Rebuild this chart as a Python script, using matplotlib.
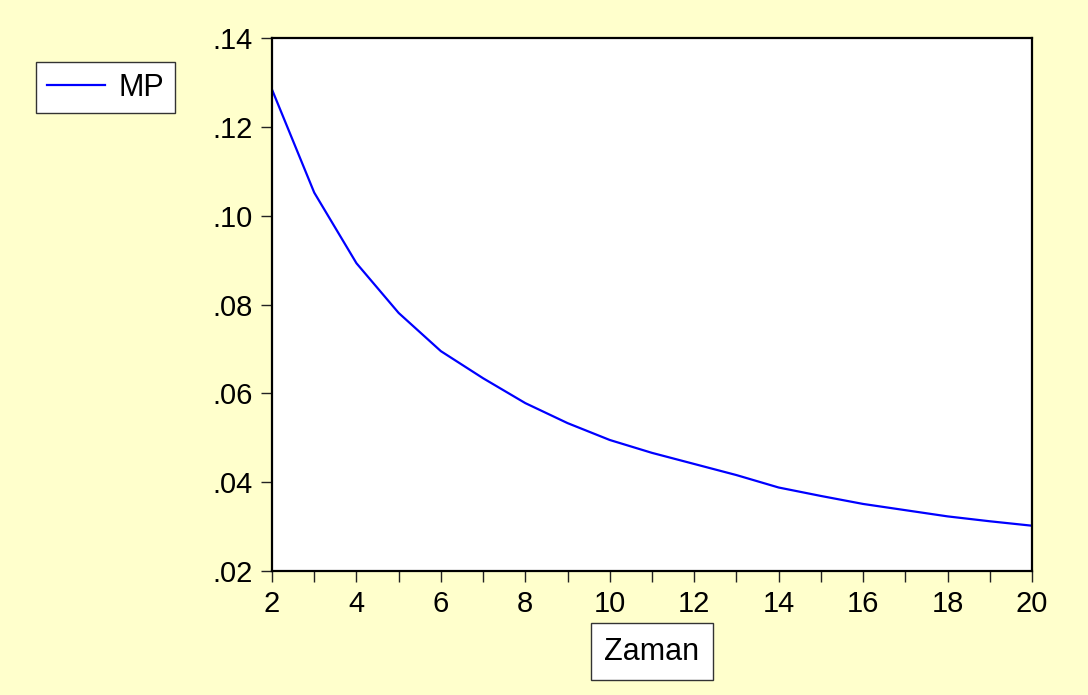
import matplotlib
matplotlib.use("Agg")
import matplotlib.pyplot as plt
from matplotlib.ticker import FuncFormatter, MultipleLocator

# values
periods = [2, 3, 4, 5, 6, 7, 8, 9, 10, 11, 12, 13, 14, 15, 16, 17, 18, 19, 20]
mp = [0.1284, 0.1052, 0.0893, 0.0781, 0.0695, 0.0634, 0.0578, 0.0533, 0.0495,
      0.0466, 0.0441, 0.0416, 0.0388, 0.0369, 0.0351, 0.0337, 0.0323, 0.0312, 0.0302]
series_name = "MP"
x_title = "Zaman"

BG = "#FFFFCC"
plt.rcParams["font.family"] = ["Liberation Sans", "DejaVu Sans"]

fig = plt.figure(figsize=(10.88, 6.95), dpi=100, facecolor=BG)
ax = fig.add_axes([0.25, 0.1784, 0.6985, 0.7669])
ax.set_facecolor("white")

line, = ax.plot(periods, mp, color="#0000FF", lw=1.6, label=series_name)

ax.set_xlim(2, 20)
ax.set_ylim(0.02, 0.14)
ax.xaxis.set_major_locator(MultipleLocator(2))
ax.xaxis.set_minor_locator(MultipleLocator(1))
ax.yaxis.set_major_locator(MultipleLocator(0.02))
ax.yaxis.set_major_formatter(FuncFormatter(lambda v, p: f"{v:.2f}".lstrip("0")))

for s in ax.spines.values():
    s.set_linewidth(1.6)
    s.set_color("black")
ax.tick_params(axis="both", which="both", direction="out", length=8,
               width=1.0, color="#222222", labelsize=21)
ax.tick_params(axis="x", which="both", pad=6)
ax.tick_params(axis="y", pad=6)

ax.set_xlabel(x_title, fontsize=22, labelpad=13,
              bbox=dict(boxstyle="square,pad=0.45", facecolor="white",
                        edgecolor="#333333", linewidth=1.0))

leg = fig.legend(handles=[line], loc="upper left",
                 bbox_to_anchor=(0.033, 0.911), fontsize=22,
                 handlelength=1.9, handletextpad=0.45, borderpad=0.35,
                 borderaxespad=0, fancybox=False, framealpha=1,
                 edgecolor="#333333")
leg.get_frame().set_linewidth(1.0)

fig.savefig("out.png", dpi=100, facecolor=BG)
